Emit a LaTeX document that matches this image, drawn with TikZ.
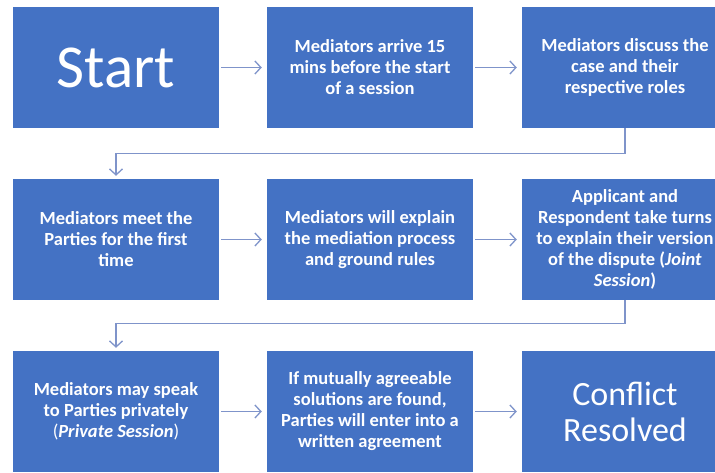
\documentclass[tikz,border=0pt]{standalone}
\usepackage{fontspec}
\setmainfont{Carlito}
\usetikzlibrary{arrows.meta}
\definecolor{boxblue}{HTML}{4472C4}
\definecolor{linkblue}{HTML}{7F94CA}
\begin{document}
\begin{tikzpicture}[x=1pt,y=-1pt]
  \tikzset{stepbox/.style={fill=boxblue, text=white, minimum width=206pt, minimum height=121pt, inner sep=0pt, align=center, font=\fontsize{18.5}{21}\selectfont\bfseries},
    conn/.style={draw=linkblue, line width=1.3pt, -{Straight Barb[length=6pt,width=13pt]}, shorten <=2pt, shorten >=5pt}}
  \useasboundingbox (0,0) rectangle (715,472);
  \clip (0,0) rectangle (715,472);
  	\node[stepbox, font=\fontsize{61}{64}\selectfont] at (116,67.5) (s1) {Start};
    \node[stepbox] at (370,67.5) (s2) {Mediators arrive 15\\mins before the start\\of a session};
    \node[stepbox] at (625,67.5) (s3) {Mediators discuss the\\case and their\\respective roles};
    \node[stepbox] at (116,239.5) (s4) {Mediators meet the\\Parties for the first\\time};
    \node[stepbox] at (370,239.5) (s5) {Mediators will explain\\the mediation process\\and ground rules};
    \node[stepbox] at (625,239.5) (s6) {Applicant and\\Respondent take turns\\to explain their version\\of the dispute (\textit{Joint}\\\textit{Session})};
    \node[stepbox] at (116,411.5) (s7) {Mediators may speak\\to Parties privately\\{\mdseries(}\textit{Private Session}{\mdseries)}};
    \node[stepbox] at (370,411.5) (s8) {If mutually agreeable\\solutions are found,\\Parties will enter into a\\written agreement};
    \node[stepbox, font=\fontsize{34}{36}\selectfont] at (625,411.5) (s9) {Conflict\\Resolved};

	\draw[conn] (s1) -- (s2);
	\draw[conn] (s2) -- (s3);
	\draw[conn] (s4) -- (s5);
	\draw[conn] (s5) -- (s6);
	\draw[conn] (s7) -- (s8);
	\draw[conn] (s8) -- (s9);
	\draw[conn, shorten <=0pt, shorten >=3pt] (s3.south) -- ++(0,25) -| (s4.north);
	\draw[conn, shorten <=0pt, shorten >=3pt] (s6.south) -- ++(0,23) -| (s7.north);

  \end{tikzpicture}
\end{document}
